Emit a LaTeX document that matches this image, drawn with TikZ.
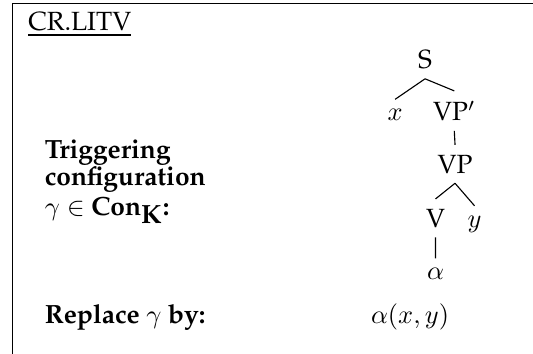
\documentclass[tikz,border=0pt]{standalone}
\usepackage[T1]{fontenc}
\usepackage{palatino}
\begin{document}
\begin{tikzpicture}[every node/.style={inner sep=3.6pt},
  caption/.style={anchor=base west, inner sep=0pt}]
\useasboundingbox (0, 0) rectangle (7.11, -4.72);
\draw [line width=0.15mm] (0.17, -4.72) -- (0.17, -0.05) -- (7.11, -0.05);

      \draw (0.37, -0.41) node[caption] (rule) {\underline{CR.LITV}};
      \draw (0.59, -2.11) node[caption] (trig) {\textbf{Triggering}};
      \draw (0.59, -2.48) node[caption] (conf) {\textbf{configuration}};
      \draw (0.59, -2.87) node[caption] (con) {$\gamma\in$ \textbf{Con}$_{\textbf{K}}$\textbf{:}};
      \draw (0.59, -4.31) node[caption] (repl) {\textbf{Replace $\gamma$ by:}};

      \draw (5.67, -0.91) node[anchor=base] (s) {S};
      \draw (5.27, -1.61) node[anchor=base] (x) {$x$};
      \draw (6.06, -1.61) node[anchor=base] (vpbar) {VP$'$};
      \draw (6.07, -2.31) node[anchor=base] (vp) {VP};
      \draw (5.81, -3.03) node[anchor=base] (v) {V};
      \draw (6.33, -3.03) node[anchor=base] (y) {$y$};
      \draw (5.81, -3.73) node[anchor=base] (alpha) {$\alpha$};
      \draw (5.47, -4.31) node[anchor=base, inner sep=0pt] (result) {$\alpha(x,y)$};

      \draw [line width=0.15mm] (s.south) -- (x.north)
      (s.south) -- (vpbar.north)
      (vpbar.south) -- (vp.north)
      (vp.south) -- (v.north)
      (vp.south) -- (y.north)
      (v.south) -- (alpha.north);
    \end{tikzpicture}
\end{document}
